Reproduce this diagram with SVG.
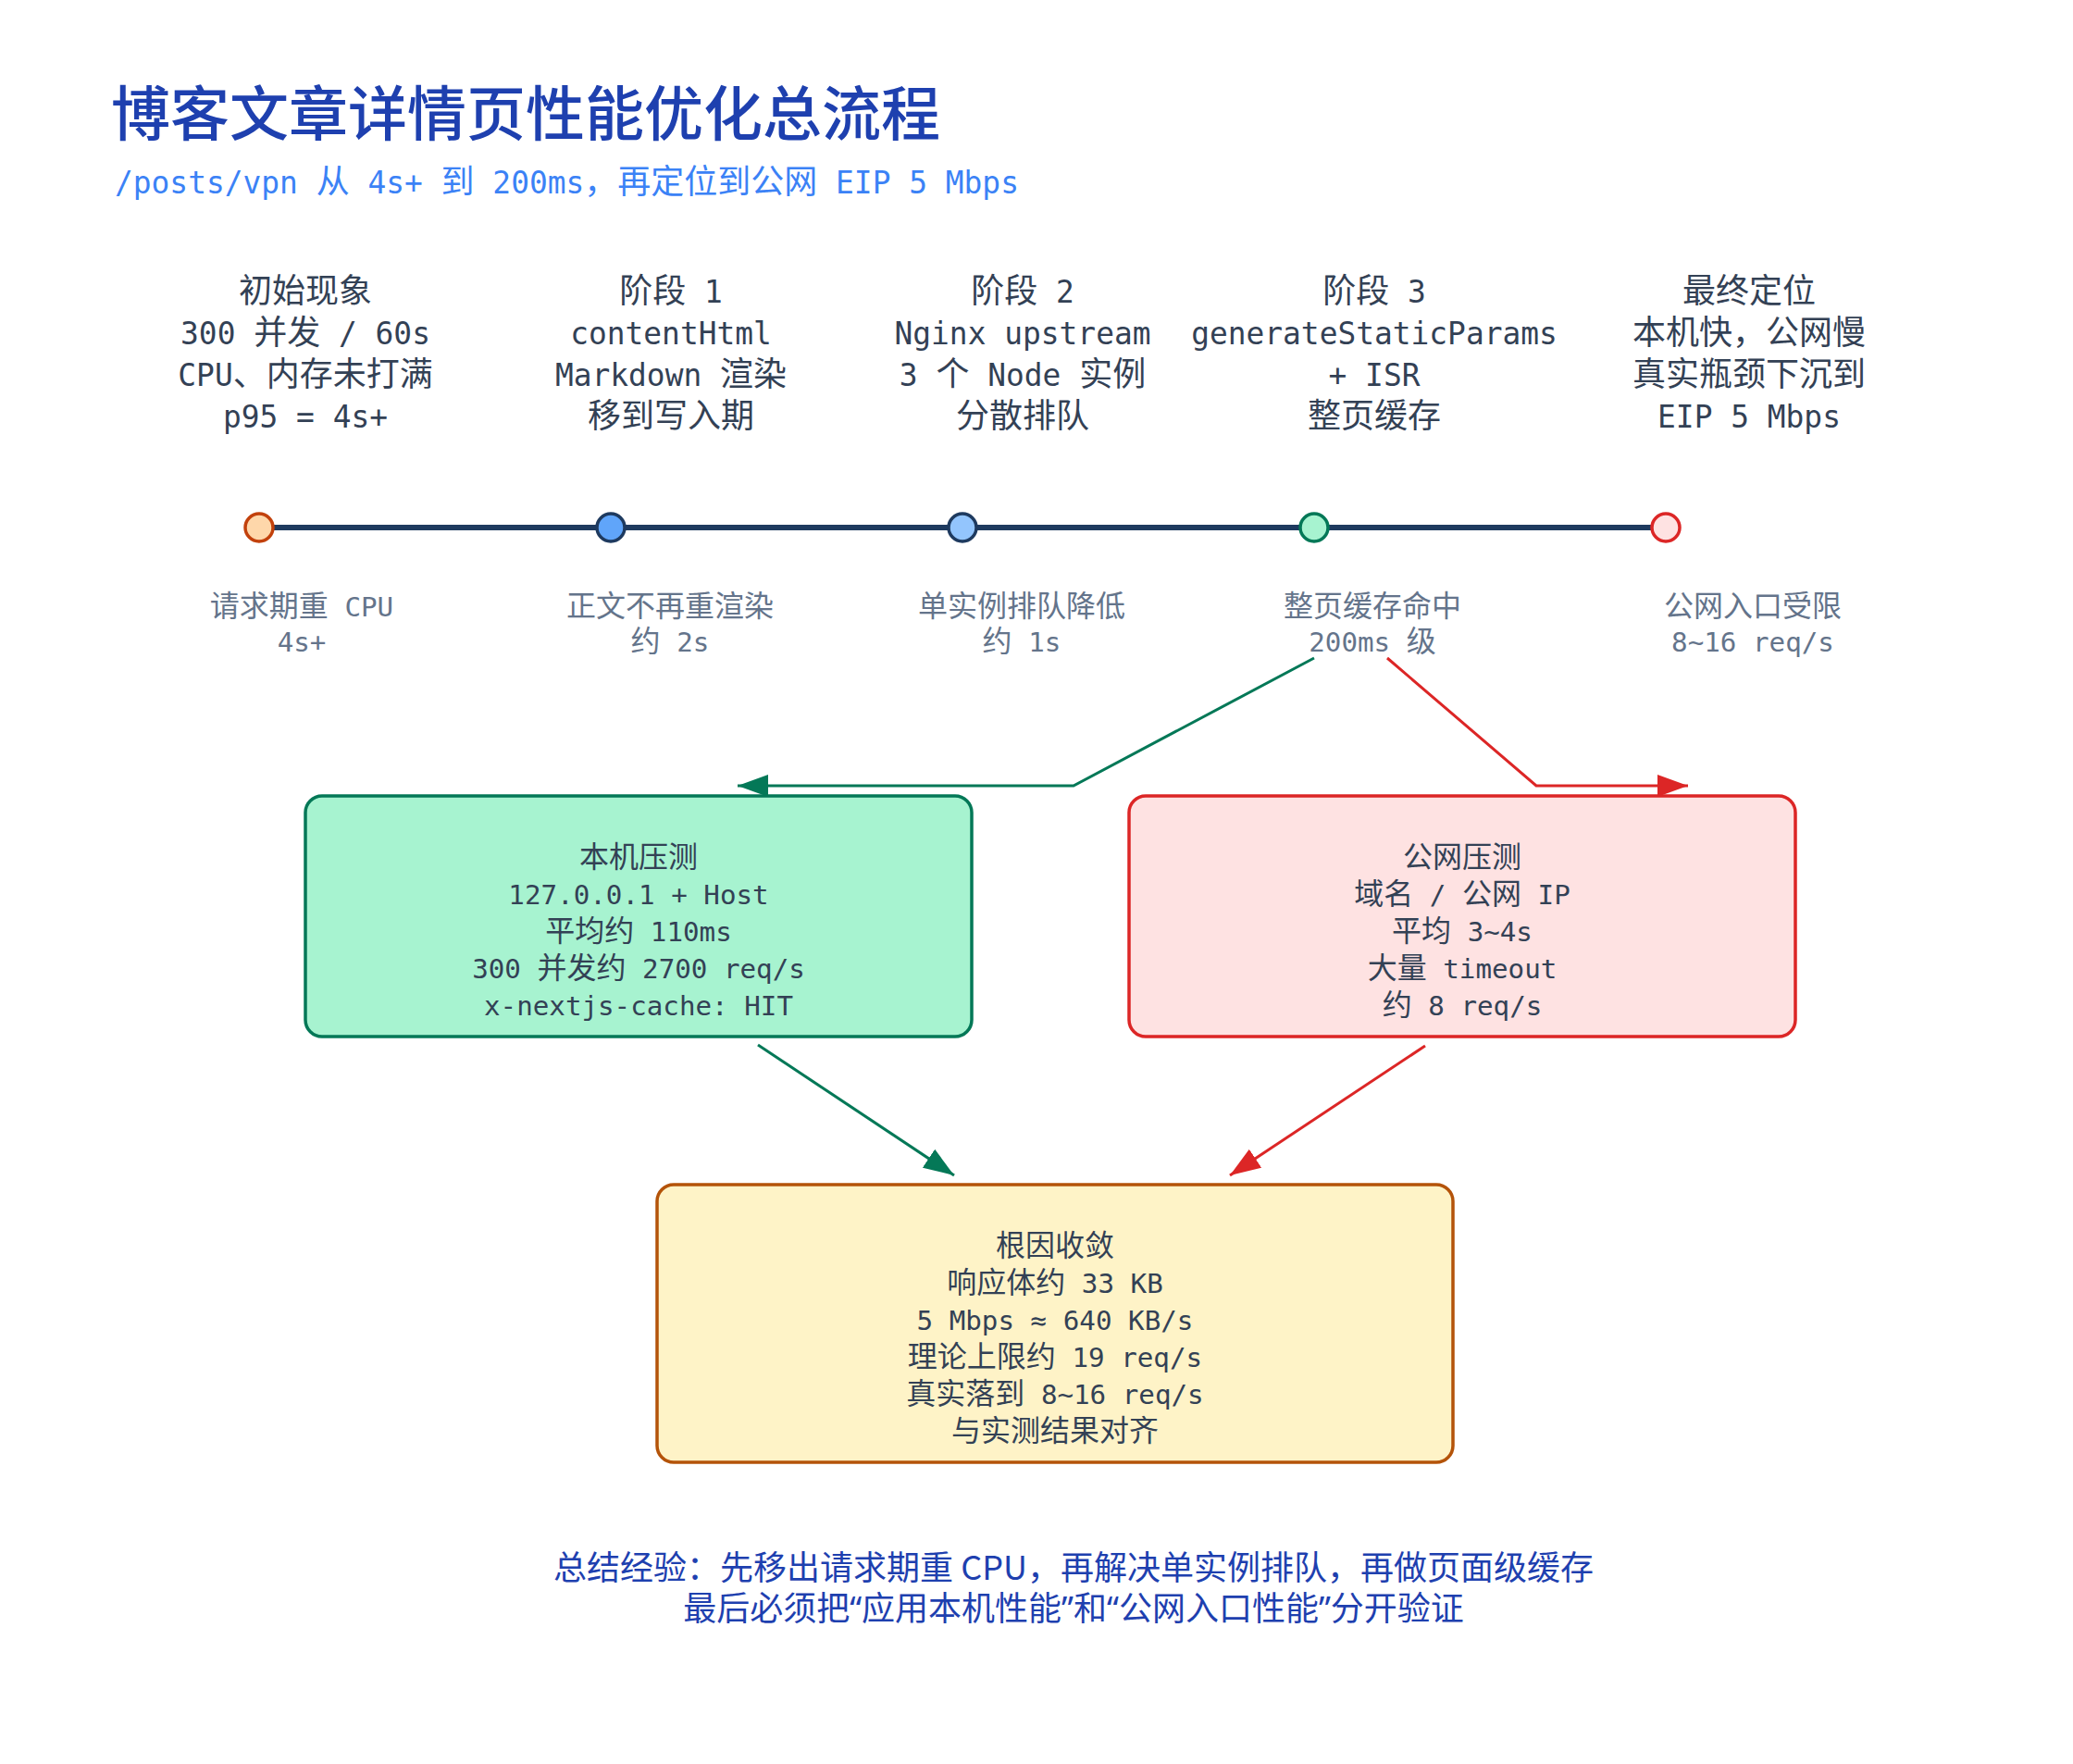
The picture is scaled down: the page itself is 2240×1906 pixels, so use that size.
<svg xmlns="http://www.w3.org/2000/svg" width="2240" height="1906" viewBox="0 0 2240 1906">
<style>
.title{font-family:"Noto Sans CJK SC",sans-serif;font-weight:500;font-size:64px;fill:#1e40af}
.m{font-family:"DejaVu Sans Mono","Noto Sans CJK SC",monospace;text-anchor:middle}
.a{font-size:0.913em}
.sub{font-size:36px;fill:#3b82f6;text-anchor:start}
.h{font-size:36px;fill:#334155}
.s{font-size:32px;fill:#64748b}
.b{font-size:32px;fill:#334155}
.foot{font-family:"Noto Sans CJK SC",sans-serif;font-size:36px;fill:#1e40af;text-anchor:middle}
.foot2{font-family:"Noto Sans","Noto Sans CJK SC",sans-serif}
.dot{stroke-width:3.5}
.box{stroke-width:3.5}
.ln{fill:none;stroke-width:3}
</style>
<defs>
<marker id="ag" markerUnits="userSpaceOnUse" markerWidth="34" markerHeight="24" refX="33" refY="12" orient="auto"><path d="M0,0 L33,12 L0,24 z" fill="#047857"/></marker>
<marker id="ar" markerUnits="userSpaceOnUse" markerWidth="34" markerHeight="24" refX="33" refY="12" orient="auto"><path d="M0,0 L33,12 L0,24 z" fill="#dc2626"/></marker>
</defs>
<rect width="2240" height="1906" fill="#ffffff"/>

<g id="header">
<text class="title" x="120" y="146">博客文章详情页性能优化总流程</text>
<text class="m sub" x="124" y="209"><tspan class="a">/posts/vpn </tspan>从<tspan class="a"> 4s+ </tspan>到<tspan class="a"> 200ms</tspan>，再定位到公网<tspan class="a"> EIP 5 Mbps</tspan></text>
</g>

<g id="timeline">
<line x1="280" y1="570" x2="1800" y2="570" stroke="#1e3a5f" stroke-width="6"/>
</g>

<g id="stage0">
<text class="m h"><tspan x="330" y="327">初始现象</tspan><tspan x="330" y="372"><tspan class="a">300 </tspan>并发<tspan class="a"> / 60s</tspan></tspan><tspan x="330" y="417"><tspan class="a">CPU</tspan>、内存未打满</tspan><tspan x="330" y="462"><tspan class="a">p95 = 4s+</tspan></tspan></text>
<circle class="dot" cx="280" cy="570" r="15" fill="#fed7aa" stroke="#c2410c"/>
<text class="m s"><tspan x="326" y="666">请求期重<tspan class="a"> CPU</tspan></tspan><tspan x="326" y="704"><tspan class="a">4s+</tspan></tspan></text>
</g>

<g id="stage1">
<text class="m h"><tspan x="725" y="327">阶段<tspan class="a"> 1</tspan></tspan><tspan x="725" y="372"><tspan class="a">contentHtml</tspan></tspan><tspan x="725" y="417"><tspan class="a">Markdown </tspan>渲染</tspan><tspan x="725" y="462">移到写入期</tspan></text>
<circle class="dot" cx="660" cy="570" r="15" fill="#60a5fa" stroke="#1e3a5f"/>
<text class="m s"><tspan x="724" y="666">正文不再重渲染</tspan><tspan x="724" y="704">约<tspan class="a"> 2s</tspan></tspan></text>
</g>

<g id="stage2">
<text class="m h"><tspan x="1105" y="327">阶段<tspan class="a"> 2</tspan></tspan><tspan x="1105" y="372"><tspan class="a">Nginx upstream</tspan></tspan><tspan x="1105" y="417"><tspan class="a">3 </tspan>个<tspan class="a"> Node </tspan>实例</tspan><tspan x="1105" y="462">分散排队</tspan></text>
<circle class="dot" cx="1040" cy="570" r="15" fill="#93c5fd" stroke="#1e3a5f"/>
<text class="m s"><tspan x="1104" y="666">单实例排队降低</tspan><tspan x="1104" y="704">约<tspan class="a"> 1s</tspan></tspan></text>
</g>

<g id="stage3">
<text class="m h"><tspan x="1485" y="327">阶段<tspan class="a"> 3</tspan></tspan><tspan x="1485" y="372"><tspan class="a">generateStaticParams</tspan></tspan><tspan x="1485" y="417"><tspan class="a">+ ISR</tspan></tspan><tspan x="1485" y="462">整页缓存</tspan></text>
<circle class="dot" cx="1420" cy="570" r="15" fill="#a7f3d0" stroke="#047857"/>
<text class="m s"><tspan x="1483" y="666">整页缓存命中</tspan><tspan x="1483" y="704"><tspan class="a">200ms </tspan>级</tspan></text>
</g>

<g id="stage4">
<text class="m h"><tspan x="1890" y="327">最终定位</tspan><tspan x="1890" y="372">本机快，公网慢</tspan><tspan x="1890" y="417">真实瓶颈下沉到</tspan><tspan x="1890" y="462"><tspan class="a">EIP 5 Mbps</tspan></tspan></text>
<circle class="dot" cx="1800" cy="570" r="15" fill="#fee2e2" stroke="#dc2626"/>
<text class="m s"><tspan x="1894" y="666">公网入口受限</tspan><tspan x="1894" y="704"><tspan class="a">8~16 req/s</tspan></tspan></text>
</g>

<g id="connectors">
<path class="ln" d="M1420,711 L1160,849 L797,849" stroke="#047857" marker-end="url(#ag)"/>
<path class="ln" d="M1499,711 L1660,849 L1824,849" stroke="#dc2626" marker-end="url(#ar)"/>
<path class="ln" d="M819,1129 L1031,1270" stroke="#047857" marker-end="url(#ag)"/>
<path class="ln" d="M1540,1130 L1329,1270" stroke="#dc2626" marker-end="url(#ar)"/>
</g>

<g id="local-test">
<rect class="box" x="330" y="860" width="720" height="260" rx="18" fill="#a7f3d0" stroke="#047857"/>
<text class="m b"><tspan x="690" y="937">本机压测</tspan><tspan x="690" y="977"><tspan class="a">127.0.0.1 + Host</tspan></tspan><tspan x="690" y="1017">平均约<tspan class="a"> 110ms</tspan></tspan><tspan x="690" y="1057"><tspan class="a">300 </tspan>并发约<tspan class="a"> 2700 req/s</tspan></tspan><tspan x="690" y="1097"><tspan class="a">x-nextjs-cache: HIT</tspan></tspan></text>
</g>

<g id="public-test">
<rect class="box" x="1220" y="860" width="720" height="260" rx="18" fill="#fee2e2" stroke="#dc2626"/>
<text class="m b"><tspan x="1580" y="937">公网压测</tspan><tspan x="1580" y="977">域名<tspan class="a"> / </tspan>公网<tspan class="a"> IP</tspan></tspan><tspan x="1580" y="1017">平均<tspan class="a"> 3~4s</tspan></tspan><tspan x="1580" y="1057">大量<tspan class="a"> timeout</tspan></tspan><tspan x="1580" y="1097">约<tspan class="a"> 8 req/s</tspan></tspan></text>
</g>

<g id="root-cause">
<rect class="box" x="710" y="1280" width="860" height="300" rx="18" fill="#fef3c7" stroke="#b45309"/>
<text class="m b"><tspan x="1140" y="1357">根因收敛</tspan><tspan x="1140" y="1397">响应体约<tspan class="a"> 33 KB</tspan></tspan><tspan x="1140" y="1437"><tspan class="a">5 Mbps ≈ 640 KB/s</tspan></tspan><tspan x="1140" y="1477">理论上限约<tspan class="a"> 19 req/s</tspan></tspan><tspan x="1140" y="1517">真实落到<tspan class="a"> 8~16 req/s</tspan></tspan><tspan x="1140" y="1557">与实测结果对齐</tspan></text>
</g>

<g id="footer">
<text class="foot" x="1160" y="1707">总结经验：先移出请求期重 CPU，再解决单实例排队，再做页面级缓存</text>
<text class="foot foot2" x="1160" y="1751">最后必须把“应用本机性能”和“公网入口性能”分开验证</text>
</g>
</svg>
